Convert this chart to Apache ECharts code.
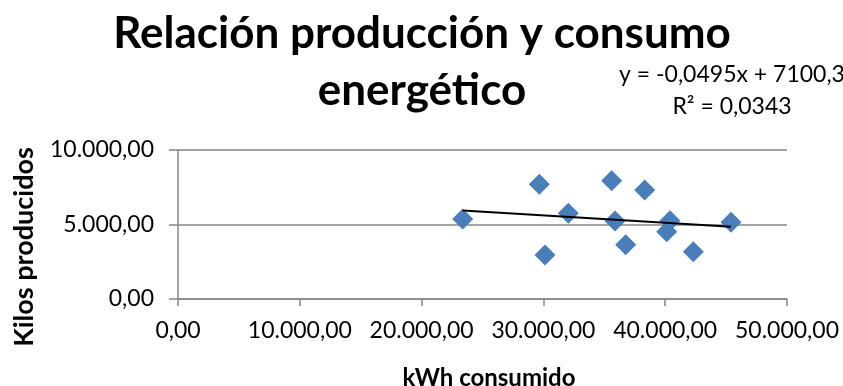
<!DOCTYPE html>
<html>
<head>
<meta charset="utf-8">
<script src="https://cdn.jsdelivr.net/npm/echarts@6/dist/echarts.min.js"></script>
<style>
  html, body { margin: 0; padding: 0; background: #ffffff; }
  #chart { width: 843px; height: 386px; }
</style>
</head>
<body>
<div id="chart"></div>
<script>
// Consumo eléctrico (kWh) frente a producción (kilos), por periodo
const kwhConsumido = [23374, 29663, 30131, 32044, 35607, 35878, 36757, 38317, 40394, 40120, 42307, 45402];
const kilosProducidos = [5369, 7698, 2953, 5752, 7940, 5235, 3644, 7315, 5255, 4517, 3174, 5148];

// Línea de tendencia lineal: y = pendiente * x + intercepto
const pendiente = -0.0495;
const intercepto = 7100.3;
const r2 = 0.0343;

const xTicks = { min: 0, max: 50000, interval: 10000 };
const yTicks = { min: 0, max: 10000, interval: 5000 };

const FONT = 'Lato, "Liberation Sans", sans-serif';
const GRAY = '#868686';

function formatoES(v) {
  const parts = v.toFixed(2).split('.');
  const ent = parts[0].replace(/\B(?=(\d{3})+(?!\d))/g, '.');
  return ent + ',' + parts[1];
}
function numES(v, dec) {
  return v.toFixed(dec).replace('.', ',');
}

const puntos = kwhConsumido.map((x, i) => [x, kilosProducidos[i]]);
const xMin = Math.min(...kwhConsumido);
const xMax = Math.max(...kwhConsumido);
const tendencia = [
  [xMin, pendiente * xMin + intercepto],
  [xMax, pendiente * xMax + intercepto]
];

const chart = echarts.init(document.getElementById('chart'), null, { renderer: 'canvas' });
chart.setOption({
  animation: false,
  backgroundColor: '#ffffff',
  title: [
    {
      text: 'Relación producción y consumo\nenergético',
      left: 417,
      top: 0,
      textAlign: 'center',
      textStyle: { fontFamily: FONT, fontWeight: 'bold', fontSize: 44, lineHeight: 57, color: '#000' }
    },
    {
      text: 'y = ' + numES(pendiente, 4) + 'x + ' + numES(intercepto, 1) + '\nR² = ' + numES(r2, 4),
      left: 727,
      top: 54,
      textAlign: 'center',
      textStyle: { fontFamily: FONT, fontWeight: 'normal', fontSize: 23, lineHeight: 32, color: '#000' }
    },
    {
      text: 'kWh consumido',
      left: 484,
      top: 361,
      textAlign: 'center',
      textStyle: { fontFamily: FONT, fontWeight: 'bold', fontSize: 24, color: '#000' }
    }
  ],
  graphic: [
    {
      type: 'text',
      x: 24,
      y: 247,
      rotation: Math.PI / 2,
      style: {
        text: 'Kilos producidos',
        fontFamily: FONT,
        fontWeight: 'bold',
        fontSize: 27,
        fill: '#000',
        align: 'center',
        verticalAlign: 'middle'
      }
    }
  ],
  grid: { left: 178, right: 56, top: 150, bottom: 87, containLabel: false },
  xAxis: {
    type: 'value',
    min: xTicks.min, max: xTicks.max, interval: xTicks.interval,
    axisLine: { show: true, onZero: false, lineStyle: { color: GRAY, width: 1.5 } },
    axisTick: { show: true, length: 7, lineStyle: { color: GRAY, width: 1.5 } },
    axisLabel: { color: '#000', fontFamily: FONT, fontSize: 23, margin: 20, formatter: formatoES },
    splitLine: { show: false }
  },
  yAxis: {
    type: 'value',
    min: yTicks.min, max: yTicks.max, interval: yTicks.interval,
    axisLine: { show: true, lineStyle: { color: GRAY, width: 1.5 } },
    axisTick: { show: true, length: 9, lineStyle: { color: GRAY, width: 1.5 } },
    axisLabel: { color: '#000', fontFamily: FONT, fontSize: 23, margin: 24, formatter: formatoES },
    splitLine: { show: true, lineStyle: { color: GRAY, width: 1.5 } }
  },
  series: [
    {
      type: 'scatter',
      data: puntos,
      symbol: 'diamond',
      symbolSize: [21, 21],
      itemStyle: { color: '#4a7ebb', opacity: 1 },
      z: 2
    },
    {
      type: 'line',
      data: tendencia,
      symbol: 'none',
      lineStyle: { color: '#000', width: 2 },
      z: 3
    }
  ]
});
</script>
</body>
</html>
